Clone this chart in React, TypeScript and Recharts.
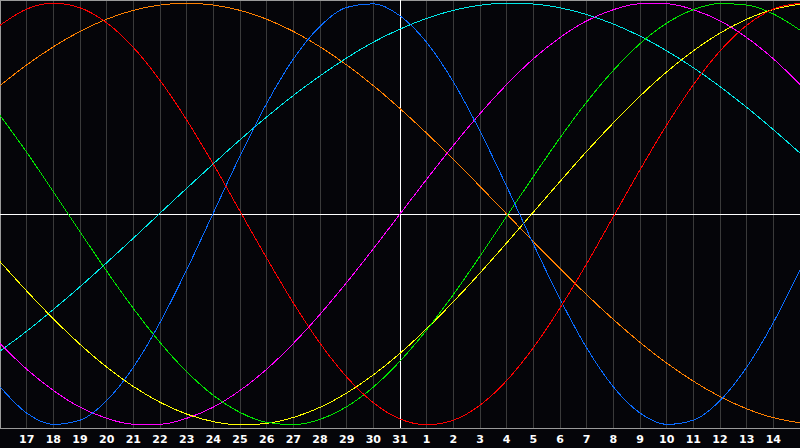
import React from 'react';
import { LineChart, Line, XAxis, YAxis, CartesianGrid, ReferenceLine } from 'recharts';

// days shown, left edge (16) to right edge (15)
const dayLabels = [16, 17, 18, 19, 20, 21, 22, 23, 24, 25, 26, 27, 28, 29, 30, 31, 1, 2, 3, 4, 5, 6, 7, 8, 9, 10, 11, 12, 13, 14, 15];
const tickIdx = [1, 2, 3, 4, 5, 6, 7, 8, 9, 10, 11, 12, 13, 14, 15, 16, 17, 18, 19, 20, 21, 22, 23, 24, 25, 26, 27, 28, 29];

const red = [0.895, 0.972, 1.0, 0.978, 0.907, 0.79, 0.634, 0.446, 0.236, 0.013, -0.209, -0.422, -0.613, -0.773, -0.895, -0.972, -1.0, -0.978, -0.907, -0.79, -0.634, -0.446, -0.236, -0.013, 0.209, 0.422, 0.613, 0.773, 0.895, 0.972, 1.0];
const blue = [-0.82, -0.944, -0.998, -0.978, -0.885, -0.727, -0.515, -0.265, 0.005, 0.275, 0.524, 0.735, 0.89, 0.98, 0.997, 0.94, 0.814, 0.627, 0.393, 0.131, -0.142, -0.403, -0.635, -0.82, -0.944, -0.998, -0.978, -0.885, -0.727, -0.515, -0.265];
const green = [0.468, 0.293, 0.106, -0.084, -0.271, -0.448, -0.609, -0.748, -0.86, -0.941, -0.988, -0.999, -0.974, -0.914, -0.821, -0.698, -0.55, -0.382, -0.2, -0.011, 0.178, 0.361, 0.531, 0.681, 0.808, 0.905, 0.969, 0.998, 0.991, 0.949, 0.872];
const yellow = [-0.226, -0.365, -0.497, -0.618, -0.726, -0.818, -0.893, -0.949, -0.985, -1.0, -0.993, -0.965, -0.917, -0.849, -0.763, -0.661, -0.544, -0.416, -0.28, -0.137, 0.009, 0.154, 0.297, 0.432, 0.559, 0.674, 0.774, 0.858, 0.924, 0.97, 0.995];
const magenta = [-0.614, -0.736, -0.837, -0.916, -0.969, -0.997, -0.997, -0.969, -0.916, -0.837, -0.736, -0.614, -0.476, -0.325, -0.165, 0.0, 0.165, 0.325, 0.476, 0.614, 0.736, 0.837, 0.916, 0.969, 0.997, 0.997, 0.969, 0.916, 0.837, 0.736, 0.614];
const orange = [0.609, 0.707, 0.793, 0.866, 0.924, 0.966, 0.991, 1.0, 0.991, 0.966, 0.924, 0.866, 0.793, 0.707, 0.609, 0.5, 0.383, 0.259, 0.131, 0.0, -0.131, -0.259, -0.383, -0.5, -0.609, -0.707, -0.793, -0.866, -0.924, -0.966, -0.991];
const cyan = [-0.65, -0.556, -0.453, -0.345, -0.231, -0.115, 0.004, 0.122, 0.238, 0.352, 0.46, 0.562, 0.655, 0.74, 0.815, 0.877, 0.928, 0.966, 0.99, 1.0, 0.996, 0.978, 0.946, 0.901, 0.844, 0.774, 0.694, 0.604, 0.506, 0.4, 0.289];

const data = dayLabels.map((day, i) => ({
  i,
  day,
  red: red[i],
  blue: blue[i],
  green: green[i],
  yellow: yellow[i],
  magenta: magenta[i],
  orange: orange[i],
  cyan: cyan[i],
}));

const series = [
  { key: 'orange', color: '#ff8000' },
  { key: 'cyan', color: '#00e8e8' },
  { key: 'magenta', color: '#ff00ff' },
  { key: 'yellow', color: '#ffff00' },
  { key: 'green', color: '#00e600' },
  { key: 'blue', color: '#0a6cff' },
  { key: 'red', color: '#ff0000' },
];

const Y_MAX = 1.015;

export default function App() {
  return (
    <div style={{ position: 'fixed', left: 0, top: 0, width: 800, height: 448, background: '#050509' }}>
      <style>{'.recharts-surface path, .recharts-surface line { shape-rendering: crispEdges; }'}</style>
      <LineChart width={800} height={448} data={data} margin={{ top: 0, right: 0, left: 0, bottom: 0 }}>
        <CartesianGrid vertical horizontal={false} stroke="#3a3a3a" />
        <XAxis
          dataKey="i"
          type="number"
          domain={[0, 30]}
          ticks={tickIdx}
          tickFormatter={(v) => String(dayLabels[v])}
          height={20}
          tickSize={0}
          tickMargin={7}
          axisLine={{ stroke: '#9a9a9a' }}
          tick={{ fill: '#ffffff', fontSize: 11, fontWeight: 'bold', fontFamily: 'DejaVu Sans' }}
          interval={0}
        />
        <YAxis hide domain={[-Y_MAX, Y_MAX]} />
        <ReferenceLine x={0} stroke="#9a9a9a" strokeWidth={2} />
        <ReferenceLine y={Y_MAX} stroke="#9a9a9a" strokeWidth={2} />
        <ReferenceLine x={15} stroke="#ffffff" />
        <ReferenceLine y={0} stroke="#ffffff" />
        {series.map((s) => (
          <Line
            key={s.key}
            type="monotone"
            dataKey={s.key}
            stroke={s.color}
            strokeWidth={1}
            dot={false}
            activeDot={false}
            isAnimationActive={false}
          />
        ))}
      </LineChart>
    </div>
  );
}
